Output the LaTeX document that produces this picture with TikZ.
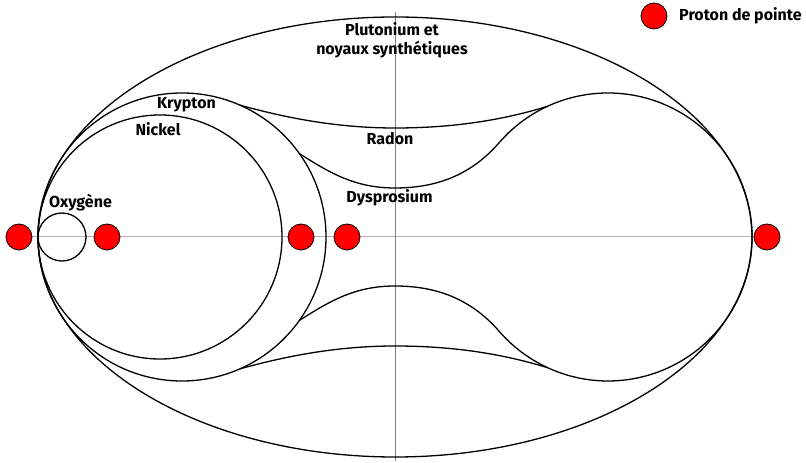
\documentclass[tikz,border=0pt]{standalone}
\usepackage{fontspec}
\setmainfont{Fira Sans}
\begin{document}
\begin{tikzpicture}[x=1pt,y=1pt,
  line/.style={black, line width=1.3pt},
  haxis/.style={draw=gray!60, line width=1pt},
  vaxis/.style={draw=gray, line width=0.9pt},
  proton/.style={circle, fill=red, draw=black, line width=0.8pt, minimum size=26pt, inner sep=0pt},
  lab/.style={font=\fontsize{16}{19}\selectfont\bfseries, inner sep=0pt, align=center}]
\useasboundingbox (0,0) rectangle (806,463);
% axes
\coordinate (axL) at (19,226);
\coordinate (axR) at (767,226);
\coordinate (axT) at (395,451);
\coordinate (axB) at (395,2);
\draw[haxis] (axL) -- (axR);
\draw[vaxis] (axT) -- (axB);
% big ellipse
\draw[line] (395,226) ellipse [x radius=357pt, y radius=220pt];
% Nickel, Krypton, Oxygene circles
\draw[line] (160,226) circle [radius=122pt];
\draw[line] (182,226) circle [radius=144pt];
\draw[line] (62,226) circle [radius=24pt];
% right arc
\draw[line] (499.32,320.48) arc[start angle=139, end angle=-139, radius=144pt];
% upper curves (Radon)
\draw[line] (240.1,357.8) .. controls (290,344) and (340,335) .. (395,335)
  .. controls (450,335) and (500,342) .. (547.6,356.7);
\draw[line] (299.4,309.4) .. controls (330,290) and (355,275) .. (395,275)
  .. controls (440,275) and (473,290.3) .. (499.32,320.48);
% lower mirrored curves
\draw[line] (240.1,94.2) .. controls (290,108) and (340,117) .. (395,117)
  .. controls (450,117) and (500,110) .. (547.6,95.3);
\draw[line] (299.4,142.6) .. controls (330,162) and (355,177) .. (395,177)
  .. controls (440,177) and (473,161.7) .. (499.32,131.52);
% protons
\node[proton] (p1) at (axL) {};
\node[proton] (p2) at (107,226) {};
\node[proton] (p3) at (301,226) {};
\node[proton] (p4) at (347,226) {};
\node[proton] (p5) at (axR) {};
\node[proton] (pl) at (654,447) {};
% labels
\node[lab, anchor=west] (legend) at (679,447) {Proton de pointe};
\node[lab] (plutonium) at (392,423) {Plutonium et\\noyaux synthétiques};
\node[lab] (krypton) at (186.5,358) {Krypton};
\node[lab] (nickel) at (158,334) {Nickel};
\node[lab] (oxygene) at (80.5,260) {Oxygène};
\node[lab] (radon) at (390,324) {Radon};
\node[lab] (dysprosium) at (389.5,265) {Dysprosium};
\end{tikzpicture}
\end{document}
